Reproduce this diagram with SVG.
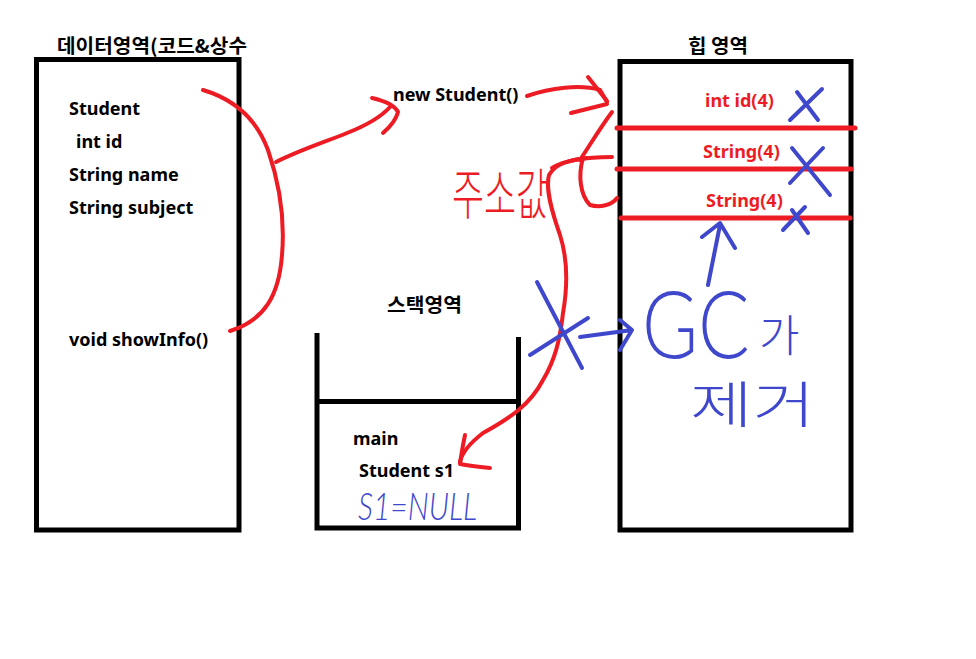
<svg xmlns="http://www.w3.org/2000/svg" width="976" height="659" viewBox="0 0 976 659">
<style>
.t{font-family:"Noto Sans","Noto Sans CJK KR",sans-serif;font-weight:bold;font-size:18px;fill:#000}
.k{font-family:"Noto Sans CJK KR","Noto Sans",sans-serif;font-weight:bold;font-size:19px;fill:#000}
.rt{font-family:"Noto Sans","Noto Sans CJK KR",sans-serif;font-weight:bold;font-size:18px;fill:#ed1c24}
.box{fill:none;stroke:#000;stroke-width:5}
.hl{stroke:#ed1c24;stroke-width:5;stroke-linecap:round}
.red{fill:none;stroke:#ed1c24;stroke-width:4;stroke-linecap:round;stroke-linejoin:round}
.blue{fill:none;stroke:#3f48cc;stroke-width:4;stroke-linecap:round;stroke-linejoin:round}
.hk{font-family:"Noto Sans CJK KR",sans-serif;font-weight:300}
.hlat{font-family:Lato,"Open Sans",sans-serif;font-weight:300}
</style>
<rect width="976" height="659" fill="#fff"/>

<g id="data-area">
  <text class="k" x="57" y="53" textLength="190" lengthAdjust="spacingAndGlyphs">데이터영역(코드&amp;상수</text>
  <rect class="box" x="36.5" y="59.5" width="202.5" height="470.5"/>
  <text class="t" x="69" y="115">Student</text>
  <text class="t" x="76" y="148">int id</text>
  <text class="t" x="69" y="181">String name</text>
  <text class="t" x="69" y="214">String subject</text>
  <text class="t" x="69" y="346">void showInfo()</text>
</g>

<g id="new-student">
  <text class="t" x="393" y="101">new Student()</text>
</g>

<g id="stack-area">
  <text class="k" x="387" y="312" textLength="75" lengthAdjust="spacingAndGlyphs">스택영역</text>
  <path class="box" d="M317,333 V528 H518.5 V337"/>
  <line x1="317" y1="401.5" x2="521" y2="401.5" stroke="#000" stroke-width="5"/>
  <text class="t" x="353" y="445">main</text>
  <text class="t" x="359" y="477">Student s1</text>
  <text class="hlat" x="358" y="520" font-size="37" font-style="italic" fill="#3f48cc" textLength="119" lengthAdjust="spacingAndGlyphs">S1=NULL</text>
</g>

<g id="heap-area">
  <text class="k" x="688" y="53" textLength="60" lengthAdjust="spacingAndGlyphs">힙 영역</text>
  <rect class="box" x="620" y="61.5" width="231" height="468.5"/>
  <line class="hl" x1="617" y1="128" x2="855" y2="128"/>
  <line class="hl" x1="617" y1="169" x2="851" y2="169"/>
  <line class="hl" x1="621" y1="218" x2="850" y2="218"/>
  <text class="rt" x="705" y="107">int id(4)</text>
  <text class="rt" x="703" y="158">String(4)</text>
  <text class="rt" x="706" y="207">String(4)</text>
</g>

<g id="address-label">
  <text class="hk" x="452" y="214" font-size="55" fill="#ed1c24" textLength="96" lengthAdjust="spacingAndGlyphs">주소값</text>
</g>

<g id="gc-label">
  <text class="hlat" transform="translate(642,358) scale(0.83,1)" x="0" y="0" font-size="92" fill="#3f48cc">GC</text>
  <text class="hk" x="759" y="352" font-size="44" fill="#3f48cc">가</text>
  <text class="hk" x="690" y="423" font-size="50" fill="#3f48cc" textLength="125" lengthAdjust="spacingAndGlyphs">제거</text>
</g>

<g id="connectors">
  <path class="red" d="M203,90 C230,98 255,115 268,150 C280,185 285,220 282,255 C279,295 265,320 230,331"/>
  <path class="red" d="M276,162 C300,150 325,142 347,133 C365,126 380,118 390,107"/>
  <path class="red" d="M372,98 C385,101 395,106 398,112 C396,120 390,127 383,133"/>
  <path class="red" d="M527,96 C550,88 580,84 600,90 L607,102"/>
  <path class="red" d="M588,77 L607,101 M571,113 L607,104"/>
  <path class="red" d="M612,112 C600,128 590,145 580,160"/>
  <path class="red" d="M583,158 C578,175 580,195 590,205 C600,208 612,205 617,198"/>
  <path class="red" stroke-width="6" d="M552,168 C565,160 590,157 612,157"/>
  <path class="red" d="M587,158 C570,160 556,163 549,175 C545,190 553,215 560,235 C568,260 567,290 563,313 C560,340 555,360 543,380 C530,405 510,418 483,433 C470,443 462,452 460,462"/>
  <path class="red" d="M465,435 C463,445 461,455 460,464 C470,466 480,467 490,468"/>
  <path class="blue" d="M537,282 L582,368 M530,355 L588,318"/>
  <path class="blue" d="M580,337 L632,330 M620,320 L632,330 L620,350"/>
  <path class="blue" d="M708,285 L720,225 M702,237 L720,223 L735,248"/>
  <path class="blue" d="M797,92 L818,120 M822,89 L790,120"/>
  <path class="blue" d="M792,148 L830,195 M823,148 L790,183"/>
  <path class="blue" d="M792,210 L808,233 M783,230 L805,207"/>
</g>
</svg>
